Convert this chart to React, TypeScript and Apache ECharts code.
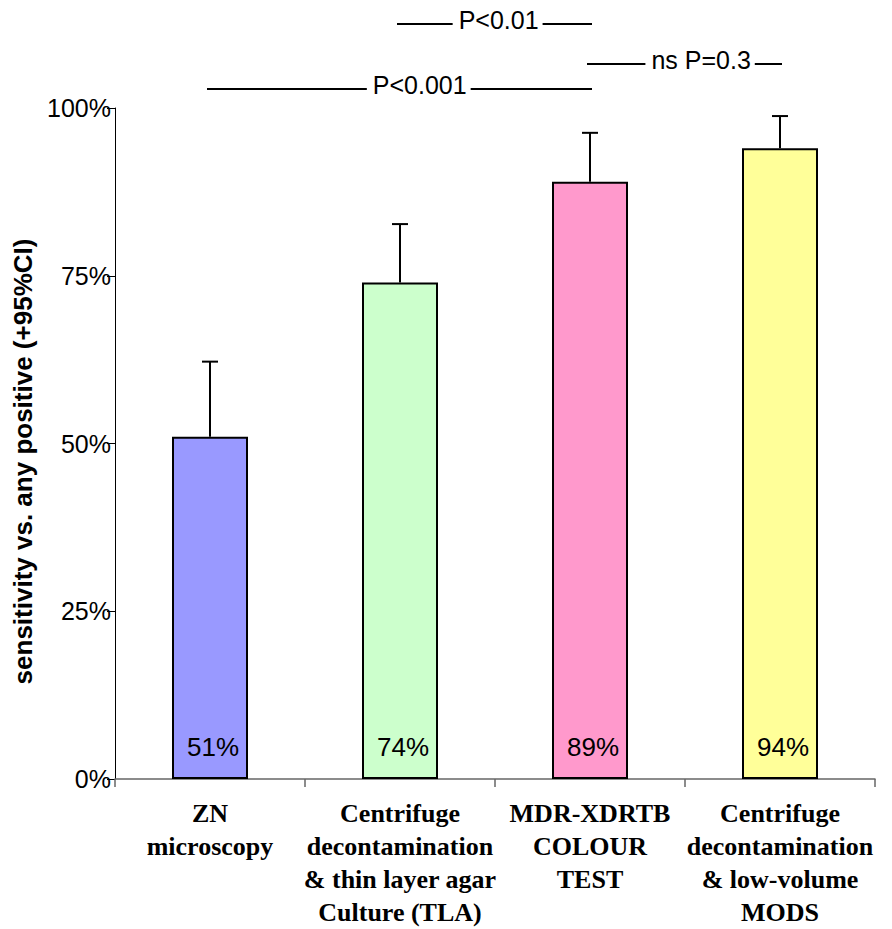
import React, { useEffect, useRef } from "react";
import * as echarts from "echarts";

const categories = [
  "ZN\nmicroscopy",
  "Centrifuge\ndecontamination\n& thin layer agar\nCulture (TLA)",
  "MDR-XDRTB\nCOLOUR\nTEST",
  "Centrifuge\ndecontamination\n& low-volume\nMODS",
];
const sensitivity = [51, 74, 89, 94];
const upperCI = [62.2, 82.7, 96.3, 98.8];
const barColors = ["#9999FF", "#CCFFCC", "#FF99CC", "#FFFF99"];
const yTicks = [0, 25, 50, 75, 100];

const sigLabels = ["P<0.001", "P<0.01", "ns P=0.3"];
const sigFrom = [0, 1, 2];
const sigTo = [2, 2, 3];

const SANS = '"Liberation Sans", Arial, sans-serif';
const SERIF = '"Liberation Serif", "Times New Roman", serif';

export default function App() {
  const ref = useRef<HTMLDivElement>(null);
  useEffect(() => {
    if (!ref.current) return;
    const chart = echarts.init(ref.current, null, { renderer: "svg" });
    const option: any = {
      animation: false,
      backgroundColor: "#fff",
      grid: { left: 115, right: 17, top: 108, bottom: 144, containLabel: false },
      xAxis: {
        type: "category",
        data: categories,
        boundaryGap: true,
        axisLine: { lineStyle: { color: "#666", width: 1.5 } },
        axisTick: { show: true, length: 8, inside: false, lineStyle: { color: "#666", width: 1.5 } },
        axisLabel: {
          interval: 0,
          margin: 18,
          color: "#000",
          fontFamily: SERIF,
          fontWeight: "bold",
          fontSize: 26,
          lineHeight: 33,
        },
      },
      yAxis: {
        type: "value",
        min: yTicks[0],
        max: yTicks[yTicks.length - 1],
        interval: 25,
        name: "sensitivity vs. any positive (+95%CI)",
        nameLocation: "middle",
        nameRotate: 90,
        nameGap: 77,
        nameTextStyle: {
          color: "#000",
          fontFamily: SANS,
          fontWeight: "bold",
          fontSize: 26,
          padding: [0, 36, 0, 0],
        },
        axisLine: { show: true, lineStyle: { color: "#000", width: 1 } },
        axisTick: { show: true, length: 8, lineStyle: { color: "#000", width: 1 } },
        splitLine: { show: false },
        axisLabel: {
          margin: 4,
          color: "#000",
          fontFamily: SANS,
          fontSize: 25,
          formatter: "{value}%",
        },
      },
      series: [
        {
          type: "custom",
          z: 1,
          data: sensitivity.map((v, i) => [i, v, upperCI[i]]),
          encode: { x: 0, y: [1, 2] },
          renderItem: (params: any, api: any) => {
            const base = api.coord([api.value(0), api.value(1)]);
            const top = api.coord([api.value(0), api.value(2)]);
            const st = { stroke: "#000", lineWidth: 2 };
            return {
              type: "group",
              children: [
                { type: "line", shape: { x1: base[0], y1: base[1], x2: base[0], y2: top[1] }, style: st },
                { type: "line", shape: { x1: base[0] - 8, y1: top[1], x2: base[0] + 8, y2: top[1] }, style: st },
              ],
            };
          },
        },
        {
          type: "bar",
          z: 2,
          barWidth: 76,
          data: sensitivity.map((v, i) => ({ value: v, itemStyle: { color: barColors[i] } })),
          itemStyle: { borderColor: "#000", borderWidth: 2 },
          label: {
            show: true,
            position: "insideBottom",
            distance: 19,
            offset: [3, 0],
            color: "#000",
            fontFamily: SANS,
            fontSize: 26,
            formatter: (p: any) => Math.round(p.value) + "%",
          },
        },
      ],
    };
    chart.setOption(option);

    const lineY = [89, 24, 64];
    const textFrac = [0.55, 0.516, 0.58];
    const graphics: any[] = [];
    sigLabels.forEach((lab, k) => {
      const x1 = chart.convertToPixel({ xAxisIndex: 0 }, sigFrom[k]) as number;
      const x2 = chart.convertToPixel({ xAxisIndex: 0 }, sigTo[k]) as number;
      const xa = x1 - 3;
      const xb = x2 + 2;
      graphics.push({
        type: "line",
        z: 10,
        shape: { x1: xa, y1: lineY[k], x2: xb, y2: lineY[k] },
        style: { stroke: "#000", lineWidth: 2 },
      });
      graphics.push({
        type: "text",
        z: 11,
        x: xa + textFrac[k] * (xb - xa),
        y: lineY[k] - 4,
        style: {
          text: lab,
          fill: "#000",
          font: `25px ${SANS}`,
          align: "center",
          verticalAlign: "middle",
          backgroundColor: "#fff",
          padding: [2, 4, 0, 6],
        },
      });
    });
    chart.setOption({ graphic: graphics });

    return () => chart.dispose();
  }, []);
  return (
    <div
      ref={ref}
      style={{ position: "fixed", left: 0, top: 0, width: 892, height: 929 }}
    />
  );
}
